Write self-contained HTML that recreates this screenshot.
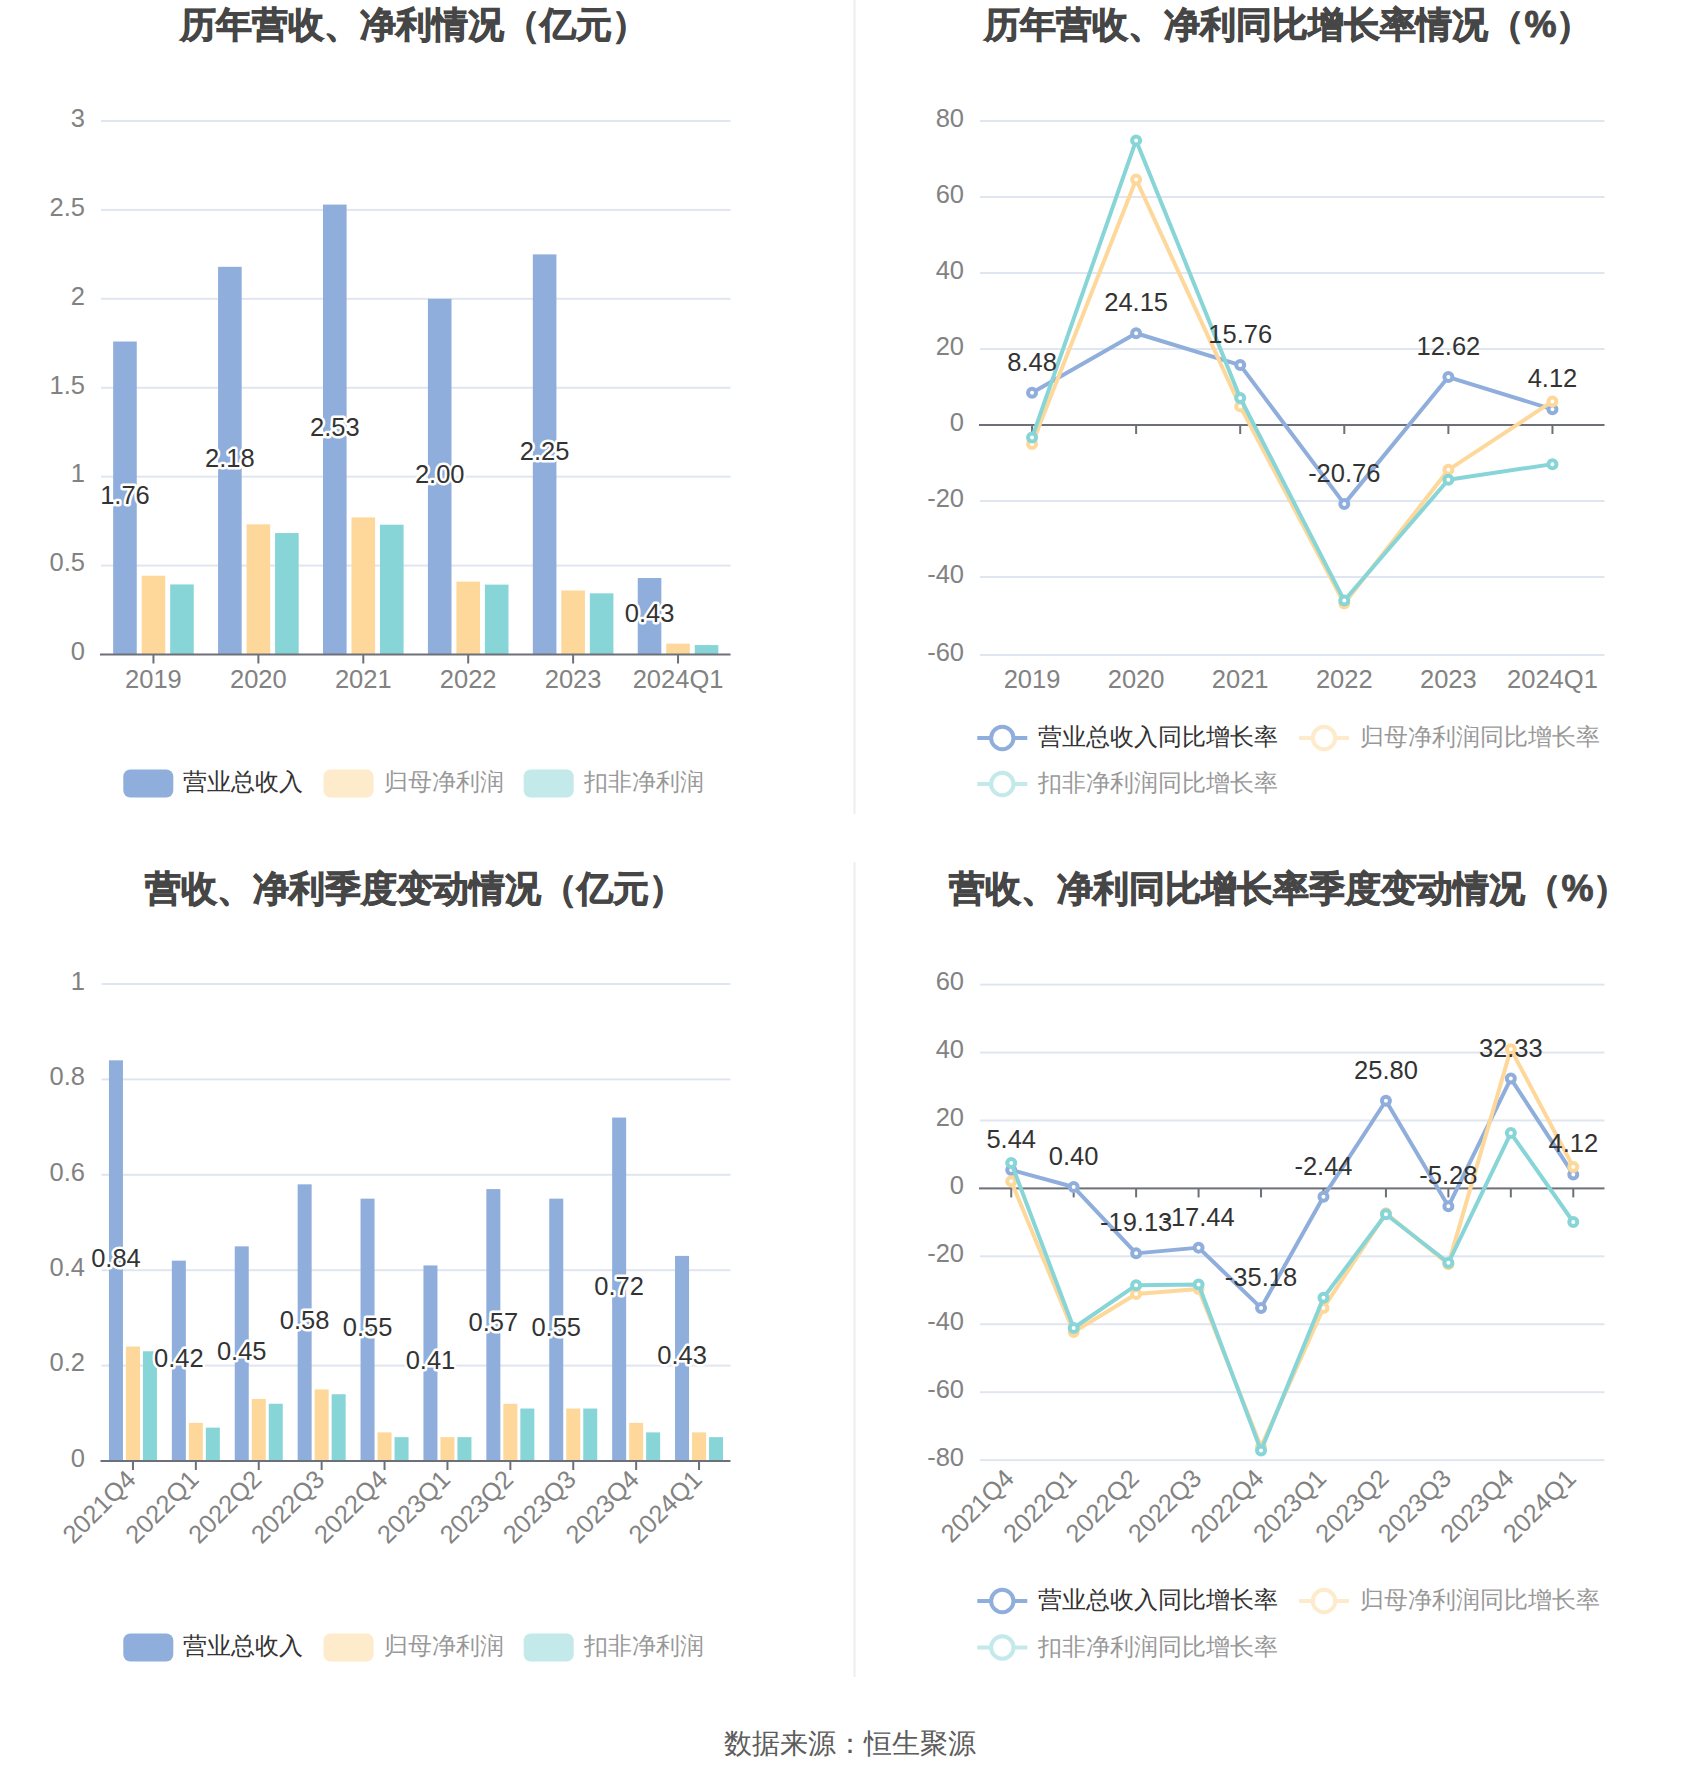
<!DOCTYPE html>
<html><head><meta charset="utf-8"><style>
html,body{margin:0;padding:0;background:#fff;width:1700px;height:1782px;overflow:hidden}
svg{display:block;font-family:"Liberation Sans", sans-serif}
</style></head><body>
<svg width="1700" height="1782" viewBox="0 0 1700 1782">
<rect width="1700" height="1782" fill="#fff"/>

<text x="414" y="37" font-size="36" font-weight="bold" fill="#464646" stroke="#464646" stroke-width="0.9" text-anchor="middle">历年营收、净利情况（亿元）</text>
<rect x="101" y="120.00" width="629.5" height="2" fill="#E0E6F1"/>
<rect x="101" y="208.92" width="629.5" height="2" fill="#E0E6F1"/>
<rect x="101" y="297.83" width="629.5" height="2" fill="#E0E6F1"/>
<rect x="101" y="386.75" width="629.5" height="2" fill="#E0E6F1"/>
<rect x="101" y="475.67" width="629.5" height="2" fill="#E0E6F1"/>
<rect x="101" y="564.58" width="629.5" height="2" fill="#E0E6F1"/>
<text x="85" y="126.80" font-size="25.5" fill="#828282" text-anchor="end">3</text>
<text x="85" y="215.72" font-size="25.5" fill="#828282" text-anchor="end">2.5</text>
<text x="85" y="304.63" font-size="25.5" fill="#828282" text-anchor="end">2</text>
<text x="85" y="393.55" font-size="25.5" fill="#828282" text-anchor="end">1.5</text>
<text x="85" y="482.47" font-size="25.5" fill="#828282" text-anchor="end">1</text>
<text x="85" y="571.38" font-size="25.5" fill="#828282" text-anchor="end">0.5</text>
<text x="85" y="660.30" font-size="25.5" fill="#828282" text-anchor="end">0</text>
<rect x="113.16" y="341.51" width="23.6" height="312.99" fill="#8FAEDB"/>
<rect x="141.66" y="575.72" width="23.6" height="78.78" fill="#FDD89A"/>
<rect x="170.16" y="584.43" width="23.6" height="70.07" fill="#88D5D8"/>
<rect x="218.07" y="266.82" width="23.6" height="387.68" fill="#8FAEDB"/>
<rect x="246.57" y="524.33" width="23.6" height="130.17" fill="#FDD89A"/>
<rect x="275.07" y="533.04" width="23.6" height="121.46" fill="#88D5D8"/>
<rect x="322.99" y="204.58" width="23.6" height="449.92" fill="#8FAEDB"/>
<rect x="351.49" y="517.39" width="23.6" height="137.11" fill="#FDD89A"/>
<rect x="379.99" y="524.68" width="23.6" height="129.82" fill="#88D5D8"/>
<rect x="427.91" y="298.83" width="23.6" height="355.67" fill="#8FAEDB"/>
<rect x="456.41" y="581.59" width="23.6" height="72.91" fill="#FDD89A"/>
<rect x="484.91" y="584.61" width="23.6" height="69.89" fill="#88D5D8"/>
<rect x="532.83" y="254.38" width="23.6" height="400.12" fill="#8FAEDB"/>
<rect x="561.33" y="590.48" width="23.6" height="64.02" fill="#FDD89A"/>
<rect x="589.83" y="593.33" width="23.6" height="61.17" fill="#88D5D8"/>
<rect x="637.74" y="578.03" width="23.6" height="76.47" fill="#8FAEDB"/>
<rect x="666.24" y="643.65" width="23.6" height="10.85" fill="#FDD89A"/>
<rect x="694.74" y="645.07" width="23.6" height="9.43" fill="#88D5D8"/>
<rect x="100" y="653.50" width="630.5" height="2" fill="#6E7079"/>
<rect x="152.46" y="654.50" width="2" height="9" fill="#6E7079"/>
<rect x="257.38" y="654.50" width="2" height="9" fill="#6E7079"/>
<rect x="362.29" y="654.50" width="2" height="9" fill="#6E7079"/>
<rect x="467.21" y="654.50" width="2" height="9" fill="#6E7079"/>
<rect x="572.12" y="654.50" width="2" height="9" fill="#6E7079"/>
<rect x="677.04" y="654.50" width="2" height="9" fill="#6E7079"/>
<text x="153.46" y="688" font-size="25.5" fill="#828282" text-anchor="middle">2019</text>
<text x="258.38" y="688" font-size="25.5" fill="#828282" text-anchor="middle">2020</text>
<text x="363.29" y="688" font-size="25.5" fill="#828282" text-anchor="middle">2021</text>
<text x="468.21" y="688" font-size="25.5" fill="#828282" text-anchor="middle">2022</text>
<text x="573.12" y="688" font-size="25.5" fill="#828282" text-anchor="middle">2023</text>
<text x="678.04" y="688" font-size="25.5" fill="#828282" text-anchor="middle">2024Q1</text>
<text x="124.96" y="504.01" font-size="25.5" fill="#333333" text-anchor="middle" stroke="#fff" stroke-width="5" stroke-linejoin="round" paint-order="stroke">1.76</text>
<text x="229.88" y="466.66" font-size="25.5" fill="#333333" text-anchor="middle" stroke="#fff" stroke-width="5" stroke-linejoin="round" paint-order="stroke">2.18</text>
<text x="334.79" y="435.54" font-size="25.5" fill="#333333" text-anchor="middle" stroke="#fff" stroke-width="5" stroke-linejoin="round" paint-order="stroke">2.53</text>
<text x="439.71" y="482.67" font-size="25.5" fill="#333333" text-anchor="middle" stroke="#fff" stroke-width="5" stroke-linejoin="round" paint-order="stroke">2.00</text>
<text x="544.62" y="460.44" font-size="25.5" fill="#333333" text-anchor="middle" stroke="#fff" stroke-width="5" stroke-linejoin="round" paint-order="stroke">2.25</text>
<text x="649.54" y="622.27" font-size="25.5" fill="#333333" text-anchor="middle" stroke="#fff" stroke-width="5" stroke-linejoin="round" paint-order="stroke">0.43</text>
<g opacity="1"><rect x="123.3" y="769.5" width="50" height="28" rx="7" fill="#8FAEDB"/>
<text x="183.3" y="789.5" font-size="24" fill="#333333">营业总收入</text></g>
<g opacity="0.5"><rect x="323.5" y="769.5" width="50" height="28" rx="7" fill="#FDD89A"/>
<text x="383.5" y="789.5" font-size="24" fill="#333333">归母净利润</text></g>
<g opacity="0.5"><rect x="523.7" y="769.5" width="50" height="28" rx="7" fill="#88D5D8"/>
<text x="583.7" y="789.5" font-size="24" fill="#333333">扣非净利润</text></g>
<text x="1288.5" y="37" font-size="36" font-weight="bold" fill="#464646" stroke="#464646" stroke-width="0.9" text-anchor="middle">历年营收、净利同比增长率情况（%）</text>
<rect x="980" y="120.00" width="624.5" height="2" fill="#E0E6F1"/>
<rect x="980" y="196.00" width="624.5" height="2" fill="#E0E6F1"/>
<rect x="980" y="272.00" width="624.5" height="2" fill="#E0E6F1"/>
<rect x="980" y="348.00" width="624.5" height="2" fill="#E0E6F1"/>
<rect x="980" y="500.00" width="624.5" height="2" fill="#E0E6F1"/>
<rect x="980" y="576.00" width="624.5" height="2" fill="#E0E6F1"/>
<rect x="980" y="654.00" width="624.5" height="2" fill="#E0E6F1"/>
<text x="964" y="126.80" font-size="25.5" fill="#828282" text-anchor="end">80</text>
<text x="964" y="202.80" font-size="25.5" fill="#828282" text-anchor="end">60</text>
<text x="964" y="278.80" font-size="25.5" fill="#828282" text-anchor="end">40</text>
<text x="964" y="354.80" font-size="25.5" fill="#828282" text-anchor="end">20</text>
<text x="964" y="430.80" font-size="25.5" fill="#828282" text-anchor="end">0</text>
<text x="964" y="506.80" font-size="25.5" fill="#828282" text-anchor="end">-20</text>
<text x="964" y="582.80" font-size="25.5" fill="#828282" text-anchor="end">-40</text>
<text x="964" y="660.80" font-size="25.5" fill="#828282" text-anchor="end">-60</text>
<rect x="979" y="424.00" width="625.5" height="2" fill="#6E7079"/>
<rect x="1031.04" y="425.00" width="2" height="9" fill="#6E7079"/>
<rect x="1135.12" y="425.00" width="2" height="9" fill="#6E7079"/>
<rect x="1239.21" y="425.00" width="2" height="9" fill="#6E7079"/>
<rect x="1343.29" y="425.00" width="2" height="9" fill="#6E7079"/>
<rect x="1447.38" y="425.00" width="2" height="9" fill="#6E7079"/>
<rect x="1551.46" y="425.00" width="2" height="9" fill="#6E7079"/>
<text x="1032.04" y="688" font-size="25.5" fill="#828282" text-anchor="middle">2019</text>
<text x="1136.12" y="688" font-size="25.5" fill="#828282" text-anchor="middle">2020</text>
<text x="1240.21" y="688" font-size="25.5" fill="#828282" text-anchor="middle">2021</text>
<text x="1344.29" y="688" font-size="25.5" fill="#828282" text-anchor="middle">2022</text>
<text x="1448.38" y="688" font-size="25.5" fill="#828282" text-anchor="middle">2023</text>
<text x="1552.46" y="688" font-size="25.5" fill="#828282" text-anchor="middle">2024Q1</text>
<polyline points="1032.04,392.78 1136.12,333.23 1240.21,365.11 1344.29,503.89 1448.38,377.04 1552.46,409.34" fill="none" stroke="#8FAEDB" stroke-width="4" stroke-linejoin="round"/>
<circle cx="1032.04" cy="392.78" r="4" fill="#fff" stroke="#8FAEDB" stroke-width="4"/>
<circle cx="1136.12" cy="333.23" r="4" fill="#fff" stroke="#8FAEDB" stroke-width="4"/>
<circle cx="1240.21" cy="365.11" r="4" fill="#fff" stroke="#8FAEDB" stroke-width="4"/>
<circle cx="1344.29" cy="503.89" r="4" fill="#fff" stroke="#8FAEDB" stroke-width="4"/>
<circle cx="1448.38" cy="377.04" r="4" fill="#fff" stroke="#8FAEDB" stroke-width="4"/>
<circle cx="1552.46" cy="409.34" r="4" fill="#fff" stroke="#8FAEDB" stroke-width="4"/>
<polyline points="1032.04,444.00 1136.12,179.52 1240.21,406.38 1344.29,603.60 1448.38,469.84 1552.46,401.44" fill="none" stroke="#FDD89A" stroke-width="4" stroke-linejoin="round"/>
<circle cx="1032.04" cy="444.00" r="4" fill="#fff" stroke="#FDD89A" stroke-width="4"/>
<circle cx="1136.12" cy="179.52" r="4" fill="#fff" stroke="#FDD89A" stroke-width="4"/>
<circle cx="1240.21" cy="406.38" r="4" fill="#fff" stroke="#FDD89A" stroke-width="4"/>
<circle cx="1344.29" cy="603.60" r="4" fill="#fff" stroke="#FDD89A" stroke-width="4"/>
<circle cx="1448.38" cy="469.84" r="4" fill="#fff" stroke="#FDD89A" stroke-width="4"/>
<circle cx="1552.46" cy="401.44" r="4" fill="#fff" stroke="#FDD89A" stroke-width="4"/>
<polyline points="1032.04,437.54 1136.12,140.38 1240.21,398.02 1344.29,600.56 1448.38,479.72 1552.46,464.14" fill="none" stroke="#88D5D8" stroke-width="4" stroke-linejoin="round"/>
<circle cx="1032.04" cy="437.54" r="4" fill="#fff" stroke="#88D5D8" stroke-width="4"/>
<circle cx="1136.12" cy="140.38" r="4" fill="#fff" stroke="#88D5D8" stroke-width="4"/>
<circle cx="1240.21" cy="398.02" r="4" fill="#fff" stroke="#88D5D8" stroke-width="4"/>
<circle cx="1344.29" cy="600.56" r="4" fill="#fff" stroke="#88D5D8" stroke-width="4"/>
<circle cx="1448.38" cy="479.72" r="4" fill="#fff" stroke="#88D5D8" stroke-width="4"/>
<circle cx="1552.46" cy="464.14" r="4" fill="#fff" stroke="#88D5D8" stroke-width="4"/>
<text x="1032.04" y="370.78" font-size="25.5" fill="#333333" text-anchor="middle">8.48</text>
<text x="1136.12" y="311.23" font-size="25.5" fill="#333333" text-anchor="middle">24.15</text>
<text x="1240.21" y="343.11" font-size="25.5" fill="#333333" text-anchor="middle">15.76</text>
<text x="1344.29" y="481.89" font-size="25.5" fill="#333333" text-anchor="middle">-20.76</text>
<text x="1448.38" y="355.04" font-size="25.5" fill="#333333" text-anchor="middle">12.62</text>
<text x="1552.46" y="387.34" font-size="25.5" fill="#333333" text-anchor="middle">4.12</text>
<g opacity="1"><rect x="977.3" y="736" width="50" height="4" fill="#8FAEDB"/>
<circle cx="1002.3" cy="738" r="11.2" fill="#fff" stroke="#8FAEDB" stroke-width="4"/>
<text x="1037.8" y="745" font-size="24" fill="#333333">营业总收入同比增长率</text></g>
<g opacity="0.5"><rect x="1299" y="736" width="50" height="4" fill="#FDD89A"/>
<circle cx="1324" cy="738" r="11.2" fill="#fff" stroke="#FDD89A" stroke-width="4"/>
<text x="1359.5" y="745" font-size="24" fill="#333333">归母净利润同比增长率</text></g>
<g opacity="0.5"><rect x="977.3" y="782" width="50" height="4" fill="#88D5D8"/>
<circle cx="1002.3" cy="784" r="11.2" fill="#fff" stroke="#88D5D8" stroke-width="4"/>
<text x="1037.8" y="791" font-size="24" fill="#333333">扣非净利润同比增长率</text></g>
<text x="414.7" y="901" font-size="36" font-weight="bold" fill="#464646" stroke="#464646" stroke-width="0.9" text-anchor="middle">营收、净利季度变动情况（亿元）</text>
<rect x="101.5" y="983.00" width="629.0" height="2" fill="#E0E6F1"/>
<rect x="101.5" y="1078.40" width="629.0" height="2" fill="#E0E6F1"/>
<rect x="101.5" y="1173.80" width="629.0" height="2" fill="#E0E6F1"/>
<rect x="101.5" y="1269.20" width="629.0" height="2" fill="#E0E6F1"/>
<rect x="101.5" y="1364.60" width="629.0" height="2" fill="#E0E6F1"/>
<text x="85" y="989.80" font-size="25.5" fill="#828282" text-anchor="end">1</text>
<text x="85" y="1085.20" font-size="25.5" fill="#828282" text-anchor="end">0.8</text>
<text x="85" y="1180.60" font-size="25.5" fill="#828282" text-anchor="end">0.6</text>
<text x="85" y="1276.00" font-size="25.5" fill="#828282" text-anchor="end">0.4</text>
<text x="85" y="1371.40" font-size="25.5" fill="#828282" text-anchor="end">0.2</text>
<text x="85" y="1466.80" font-size="25.5" fill="#828282" text-anchor="end">0</text>
<rect x="108.95" y="1060.32" width="14" height="400.68" fill="#8FAEDB"/>
<rect x="125.95" y="1346.52" width="14" height="114.48" fill="#FDD89A"/>
<rect x="142.95" y="1351.29" width="14" height="109.71" fill="#88D5D8"/>
<rect x="171.85" y="1260.66" width="14" height="200.34" fill="#8FAEDB"/>
<rect x="188.85" y="1422.84" width="14" height="38.16" fill="#FDD89A"/>
<rect x="205.85" y="1427.61" width="14" height="33.39" fill="#88D5D8"/>
<rect x="234.75" y="1246.35" width="14" height="214.65" fill="#8FAEDB"/>
<rect x="251.75" y="1398.99" width="14" height="62.01" fill="#FDD89A"/>
<rect x="268.75" y="1403.76" width="14" height="57.24" fill="#88D5D8"/>
<rect x="297.65" y="1184.34" width="14" height="276.66" fill="#8FAEDB"/>
<rect x="314.65" y="1389.45" width="14" height="71.55" fill="#FDD89A"/>
<rect x="331.65" y="1394.22" width="14" height="66.78" fill="#88D5D8"/>
<rect x="360.55" y="1198.65" width="14" height="262.35" fill="#8FAEDB"/>
<rect x="377.55" y="1432.38" width="14" height="28.62" fill="#FDD89A"/>
<rect x="394.55" y="1437.15" width="14" height="23.85" fill="#88D5D8"/>
<rect x="423.45" y="1265.43" width="14" height="195.57" fill="#8FAEDB"/>
<rect x="440.45" y="1437.15" width="14" height="23.85" fill="#FDD89A"/>
<rect x="457.45" y="1437.15" width="14" height="23.85" fill="#88D5D8"/>
<rect x="486.35" y="1189.11" width="14" height="271.89" fill="#8FAEDB"/>
<rect x="503.35" y="1403.76" width="14" height="57.24" fill="#FDD89A"/>
<rect x="520.35" y="1408.53" width="14" height="52.47" fill="#88D5D8"/>
<rect x="549.25" y="1198.65" width="14" height="262.35" fill="#8FAEDB"/>
<rect x="566.25" y="1408.53" width="14" height="52.47" fill="#FDD89A"/>
<rect x="583.25" y="1408.53" width="14" height="52.47" fill="#88D5D8"/>
<rect x="612.15" y="1117.56" width="14" height="343.44" fill="#8FAEDB"/>
<rect x="629.15" y="1422.84" width="14" height="38.16" fill="#FDD89A"/>
<rect x="646.15" y="1432.38" width="14" height="28.62" fill="#88D5D8"/>
<rect x="675.05" y="1255.89" width="14" height="205.11" fill="#8FAEDB"/>
<rect x="692.05" y="1432.38" width="14" height="28.62" fill="#FDD89A"/>
<rect x="709.05" y="1437.15" width="14" height="23.85" fill="#88D5D8"/>
<rect x="100.5" y="1460.00" width="630.0" height="2" fill="#6E7079"/>
<rect x="131.95" y="1461.00" width="2" height="9" fill="#6E7079"/>
<rect x="194.85" y="1461.00" width="2" height="9" fill="#6E7079"/>
<rect x="257.75" y="1461.00" width="2" height="9" fill="#6E7079"/>
<rect x="320.65" y="1461.00" width="2" height="9" fill="#6E7079"/>
<rect x="383.55" y="1461.00" width="2" height="9" fill="#6E7079"/>
<rect x="446.45" y="1461.00" width="2" height="9" fill="#6E7079"/>
<rect x="509.35" y="1461.00" width="2" height="9" fill="#6E7079"/>
<rect x="572.25" y="1461.00" width="2" height="9" fill="#6E7079"/>
<rect x="635.15" y="1461.00" width="2" height="9" fill="#6E7079"/>
<rect x="698.05" y="1461.00" width="2" height="9" fill="#6E7079"/>
<text transform="translate(130.95,1474.5) rotate(-45)" font-size="25.5" fill="#828282" text-anchor="end" dominant-baseline="central">2021Q4</text>
<text transform="translate(193.85,1474.5) rotate(-45)" font-size="25.5" fill="#828282" text-anchor="end" dominant-baseline="central">2022Q1</text>
<text transform="translate(256.75,1474.5) rotate(-45)" font-size="25.5" fill="#828282" text-anchor="end" dominant-baseline="central">2022Q2</text>
<text transform="translate(319.65,1474.5) rotate(-45)" font-size="25.5" fill="#828282" text-anchor="end" dominant-baseline="central">2022Q3</text>
<text transform="translate(382.55,1474.5) rotate(-45)" font-size="25.5" fill="#828282" text-anchor="end" dominant-baseline="central">2022Q4</text>
<text transform="translate(445.45,1474.5) rotate(-45)" font-size="25.5" fill="#828282" text-anchor="end" dominant-baseline="central">2023Q1</text>
<text transform="translate(508.35,1474.5) rotate(-45)" font-size="25.5" fill="#828282" text-anchor="end" dominant-baseline="central">2023Q2</text>
<text transform="translate(571.25,1474.5) rotate(-45)" font-size="25.5" fill="#828282" text-anchor="end" dominant-baseline="central">2023Q3</text>
<text transform="translate(634.15,1474.5) rotate(-45)" font-size="25.5" fill="#828282" text-anchor="end" dominant-baseline="central">2023Q4</text>
<text transform="translate(697.05,1474.5) rotate(-45)" font-size="25.5" fill="#828282" text-anchor="end" dominant-baseline="central">2024Q1</text>
<text x="115.95" y="1266.66" font-size="25.5" fill="#333333" text-anchor="middle" stroke="#fff" stroke-width="5" stroke-linejoin="round" paint-order="stroke">0.84</text>
<text x="178.85" y="1366.83" font-size="25.5" fill="#333333" text-anchor="middle" stroke="#fff" stroke-width="5" stroke-linejoin="round" paint-order="stroke">0.42</text>
<text x="241.75" y="1359.67" font-size="25.5" fill="#333333" text-anchor="middle" stroke="#fff" stroke-width="5" stroke-linejoin="round" paint-order="stroke">0.45</text>
<text x="304.65" y="1328.67" font-size="25.5" fill="#333333" text-anchor="middle" stroke="#fff" stroke-width="5" stroke-linejoin="round" paint-order="stroke">0.58</text>
<text x="367.55" y="1335.83" font-size="25.5" fill="#333333" text-anchor="middle" stroke="#fff" stroke-width="5" stroke-linejoin="round" paint-order="stroke">0.55</text>
<text x="430.45" y="1369.22" font-size="25.5" fill="#333333" text-anchor="middle" stroke="#fff" stroke-width="5" stroke-linejoin="round" paint-order="stroke">0.41</text>
<text x="493.35" y="1331.06" font-size="25.5" fill="#333333" text-anchor="middle" stroke="#fff" stroke-width="5" stroke-linejoin="round" paint-order="stroke">0.57</text>
<text x="556.25" y="1335.83" font-size="25.5" fill="#333333" text-anchor="middle" stroke="#fff" stroke-width="5" stroke-linejoin="round" paint-order="stroke">0.55</text>
<text x="619.15" y="1295.28" font-size="25.5" fill="#333333" text-anchor="middle" stroke="#fff" stroke-width="5" stroke-linejoin="round" paint-order="stroke">0.72</text>
<text x="682.05" y="1364.45" font-size="25.5" fill="#333333" text-anchor="middle" stroke="#fff" stroke-width="5" stroke-linejoin="round" paint-order="stroke">0.43</text>
<g opacity="1"><rect x="123.3" y="1633.5" width="50" height="28" rx="7" fill="#8FAEDB"/>
<text x="183.3" y="1653.5" font-size="24" fill="#333333">营业总收入</text></g>
<g opacity="0.5"><rect x="323.5" y="1633.5" width="50" height="28" rx="7" fill="#FDD89A"/>
<text x="383.5" y="1653.5" font-size="24" fill="#333333">归母净利润</text></g>
<g opacity="0.5"><rect x="523.7" y="1633.5" width="50" height="28" rx="7" fill="#88D5D8"/>
<text x="583.7" y="1653.5" font-size="24" fill="#333333">扣非净利润</text></g>
<text x="1289.4" y="901" font-size="36" font-weight="bold" fill="#464646" stroke="#464646" stroke-width="0.9" text-anchor="middle">营收、净利同比增长率季度变动情况（%）</text>
<rect x="980" y="983.62" width="624.5" height="2" fill="#E0E6F1"/>
<rect x="980" y="1051.54" width="624.5" height="2" fill="#E0E6F1"/>
<rect x="980" y="1119.47" width="624.5" height="2" fill="#E0E6F1"/>
<rect x="980" y="1255.33" width="624.5" height="2" fill="#E0E6F1"/>
<rect x="980" y="1323.26" width="624.5" height="2" fill="#E0E6F1"/>
<rect x="980" y="1391.18" width="624.5" height="2" fill="#E0E6F1"/>
<rect x="980" y="1459.11" width="624.5" height="2" fill="#E0E6F1"/>
<text x="964" y="990.42" font-size="25.5" fill="#828282" text-anchor="end">60</text>
<text x="964" y="1058.34" font-size="25.5" fill="#828282" text-anchor="end">40</text>
<text x="964" y="1126.27" font-size="25.5" fill="#828282" text-anchor="end">20</text>
<text x="964" y="1194.20" font-size="25.5" fill="#828282" text-anchor="end">0</text>
<text x="964" y="1262.13" font-size="25.5" fill="#828282" text-anchor="end">-20</text>
<text x="964" y="1330.06" font-size="25.5" fill="#828282" text-anchor="end">-40</text>
<text x="964" y="1397.98" font-size="25.5" fill="#828282" text-anchor="end">-60</text>
<text x="964" y="1465.91" font-size="25.5" fill="#828282" text-anchor="end">-80</text>
<rect x="979" y="1187.40" width="625.5" height="2" fill="#6E7079"/>
<rect x="1010.23" y="1188.40" width="2" height="9" fill="#6E7079"/>
<rect x="1072.67" y="1188.40" width="2" height="9" fill="#6E7079"/>
<rect x="1135.12" y="1188.40" width="2" height="9" fill="#6E7079"/>
<rect x="1197.58" y="1188.40" width="2" height="9" fill="#6E7079"/>
<rect x="1260.03" y="1188.40" width="2" height="9" fill="#6E7079"/>
<rect x="1322.47" y="1188.40" width="2" height="9" fill="#6E7079"/>
<rect x="1384.93" y="1188.40" width="2" height="9" fill="#6E7079"/>
<rect x="1447.38" y="1188.40" width="2" height="9" fill="#6E7079"/>
<rect x="1509.83" y="1188.40" width="2" height="9" fill="#6E7079"/>
<rect x="1572.28" y="1188.40" width="2" height="9" fill="#6E7079"/>
<text transform="translate(1009.23,1473.5) rotate(-45)" font-size="25.5" fill="#828282" text-anchor="end" dominant-baseline="central">2021Q4</text>
<text transform="translate(1071.67,1473.5) rotate(-45)" font-size="25.5" fill="#828282" text-anchor="end" dominant-baseline="central">2022Q1</text>
<text transform="translate(1134.12,1473.5) rotate(-45)" font-size="25.5" fill="#828282" text-anchor="end" dominant-baseline="central">2022Q2</text>
<text transform="translate(1196.58,1473.5) rotate(-45)" font-size="25.5" fill="#828282" text-anchor="end" dominant-baseline="central">2022Q3</text>
<text transform="translate(1259.03,1473.5) rotate(-45)" font-size="25.5" fill="#828282" text-anchor="end" dominant-baseline="central">2022Q4</text>
<text transform="translate(1321.47,1473.5) rotate(-45)" font-size="25.5" fill="#828282" text-anchor="end" dominant-baseline="central">2023Q1</text>
<text transform="translate(1383.93,1473.5) rotate(-45)" font-size="25.5" fill="#828282" text-anchor="end" dominant-baseline="central">2023Q2</text>
<text transform="translate(1446.38,1473.5) rotate(-45)" font-size="25.5" fill="#828282" text-anchor="end" dominant-baseline="central">2023Q3</text>
<text transform="translate(1508.83,1473.5) rotate(-45)" font-size="25.5" fill="#828282" text-anchor="end" dominant-baseline="central">2023Q4</text>
<text transform="translate(1571.28,1473.5) rotate(-45)" font-size="25.5" fill="#828282" text-anchor="end" dominant-baseline="central">2024Q1</text>
<polyline points="1011.23,1169.92 1073.67,1187.04 1136.12,1253.37 1198.58,1247.63 1261.03,1307.89 1323.47,1196.69 1385.93,1100.77 1448.38,1206.33 1510.83,1078.59 1573.28,1174.41" fill="none" stroke="#8FAEDB" stroke-width="4" stroke-linejoin="round"/>
<circle cx="1011.23" cy="1169.92" r="4" fill="#fff" stroke="#8FAEDB" stroke-width="4"/>
<circle cx="1073.67" cy="1187.04" r="4" fill="#fff" stroke="#8FAEDB" stroke-width="4"/>
<circle cx="1136.12" cy="1253.37" r="4" fill="#fff" stroke="#8FAEDB" stroke-width="4"/>
<circle cx="1198.58" cy="1247.63" r="4" fill="#fff" stroke="#8FAEDB" stroke-width="4"/>
<circle cx="1261.03" cy="1307.89" r="4" fill="#fff" stroke="#8FAEDB" stroke-width="4"/>
<circle cx="1323.47" cy="1196.69" r="4" fill="#fff" stroke="#8FAEDB" stroke-width="4"/>
<circle cx="1385.93" cy="1100.77" r="4" fill="#fff" stroke="#8FAEDB" stroke-width="4"/>
<circle cx="1448.38" cy="1206.33" r="4" fill="#fff" stroke="#8FAEDB" stroke-width="4"/>
<circle cx="1510.83" cy="1078.59" r="4" fill="#fff" stroke="#8FAEDB" stroke-width="4"/>
<circle cx="1573.28" cy="1174.41" r="4" fill="#fff" stroke="#8FAEDB" stroke-width="4"/>
<polyline points="1011.23,1181.27 1073.67,1332.07 1136.12,1294.03 1198.58,1288.93 1261.03,1446.87 1323.47,1307.95 1385.93,1213.19 1448.38,1264.14 1510.83,1049.15 1573.28,1167.00" fill="none" stroke="#FDD89A" stroke-width="4" stroke-linejoin="round"/>
<circle cx="1011.23" cy="1181.27" r="4" fill="#fff" stroke="#FDD89A" stroke-width="4"/>
<circle cx="1073.67" cy="1332.07" r="4" fill="#fff" stroke="#FDD89A" stroke-width="4"/>
<circle cx="1136.12" cy="1294.03" r="4" fill="#fff" stroke="#FDD89A" stroke-width="4"/>
<circle cx="1198.58" cy="1288.93" r="4" fill="#fff" stroke="#FDD89A" stroke-width="4"/>
<circle cx="1261.03" cy="1446.87" r="4" fill="#fff" stroke="#FDD89A" stroke-width="4"/>
<circle cx="1323.47" cy="1307.95" r="4" fill="#fff" stroke="#FDD89A" stroke-width="4"/>
<circle cx="1385.93" cy="1213.19" r="4" fill="#fff" stroke="#FDD89A" stroke-width="4"/>
<circle cx="1448.38" cy="1264.14" r="4" fill="#fff" stroke="#FDD89A" stroke-width="4"/>
<circle cx="1510.83" cy="1049.15" r="4" fill="#fff" stroke="#FDD89A" stroke-width="4"/>
<circle cx="1573.28" cy="1167.00" r="4" fill="#fff" stroke="#FDD89A" stroke-width="4"/>
<polyline points="1011.23,1162.93 1073.67,1327.99 1136.12,1285.20 1198.58,1284.52 1261.03,1450.60 1323.47,1297.76 1385.93,1214.21 1448.38,1262.78 1510.83,1133.04 1573.28,1222.02" fill="none" stroke="#88D5D8" stroke-width="4" stroke-linejoin="round"/>
<circle cx="1011.23" cy="1162.93" r="4" fill="#fff" stroke="#88D5D8" stroke-width="4"/>
<circle cx="1073.67" cy="1327.99" r="4" fill="#fff" stroke="#88D5D8" stroke-width="4"/>
<circle cx="1136.12" cy="1285.20" r="4" fill="#fff" stroke="#88D5D8" stroke-width="4"/>
<circle cx="1198.58" cy="1284.52" r="4" fill="#fff" stroke="#88D5D8" stroke-width="4"/>
<circle cx="1261.03" cy="1450.60" r="4" fill="#fff" stroke="#88D5D8" stroke-width="4"/>
<circle cx="1323.47" cy="1297.76" r="4" fill="#fff" stroke="#88D5D8" stroke-width="4"/>
<circle cx="1385.93" cy="1214.21" r="4" fill="#fff" stroke="#88D5D8" stroke-width="4"/>
<circle cx="1448.38" cy="1262.78" r="4" fill="#fff" stroke="#88D5D8" stroke-width="4"/>
<circle cx="1510.83" cy="1133.04" r="4" fill="#fff" stroke="#88D5D8" stroke-width="4"/>
<circle cx="1573.28" cy="1222.02" r="4" fill="#fff" stroke="#88D5D8" stroke-width="4"/>
<text x="1011.23" y="1147.92" font-size="25.5" fill="#333333" text-anchor="middle">5.44</text>
<text x="1073.67" y="1165.04" font-size="25.5" fill="#333333" text-anchor="middle">0.40</text>
<text x="1136.12" y="1231.37" font-size="25.5" fill="#333333" text-anchor="middle">-19.13</text>
<text x="1198.58" y="1225.63" font-size="25.5" fill="#333333" text-anchor="middle">-17.44</text>
<text x="1261.03" y="1285.89" font-size="25.5" fill="#333333" text-anchor="middle">-35.18</text>
<text x="1323.47" y="1174.69" font-size="25.5" fill="#333333" text-anchor="middle">-2.44</text>
<text x="1385.93" y="1078.77" font-size="25.5" fill="#333333" text-anchor="middle">25.80</text>
<text x="1448.38" y="1184.33" font-size="25.5" fill="#333333" text-anchor="middle">-5.28</text>
<text x="1510.83" y="1056.59" font-size="25.5" fill="#333333" text-anchor="middle">32.33</text>
<text x="1573.28" y="1152.41" font-size="25.5" fill="#333333" text-anchor="middle">4.12</text>
<g opacity="1"><rect x="977.3" y="1599" width="50" height="4" fill="#8FAEDB"/>
<circle cx="1002.3" cy="1601" r="11.2" fill="#fff" stroke="#8FAEDB" stroke-width="4"/>
<text x="1037.8" y="1608" font-size="24" fill="#333333">营业总收入同比增长率</text></g>
<g opacity="0.5"><rect x="1299" y="1599" width="50" height="4" fill="#FDD89A"/>
<circle cx="1324" cy="1601" r="11.2" fill="#fff" stroke="#FDD89A" stroke-width="4"/>
<text x="1359.5" y="1608" font-size="24" fill="#333333">归母净利润同比增长率</text></g>
<g opacity="0.5"><rect x="977.3" y="1645.5" width="50" height="4" fill="#88D5D8"/>
<circle cx="1002.3" cy="1647.5" r="11.2" fill="#fff" stroke="#88D5D8" stroke-width="4"/>
<text x="1037.8" y="1654.5" font-size="24" fill="#333333">扣非净利润同比增长率</text></g>
<rect x="853.5" y="0" width="2" height="814" fill="#EEEEEE"/>
<rect x="853.5" y="862" width="2" height="815" fill="#EEEEEE"/>
<text x="849.5" y="1753" font-size="28" fill="#5c5c5c" text-anchor="middle">数据来源：恒生聚源</text>
</svg></body></html>
